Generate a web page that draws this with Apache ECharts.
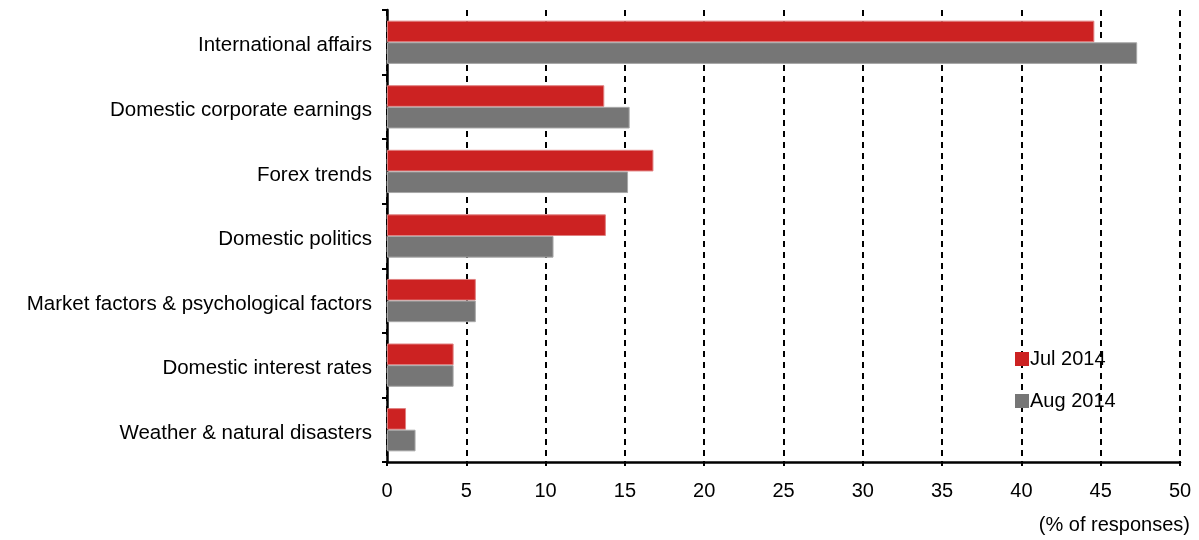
<!DOCTYPE html>
<html>
<head>
<meta charset="utf-8">
<script src="https://cdn.jsdelivr.net/npm/echarts@6/dist/echarts.min.js"></script>
<style>
  html, body { margin: 0; padding: 0; background: #fff; }
  #chart { width: 1199px; height: 540px; }
</style>
</head>
<body>
<div id="chart"></div>
<script>
const categories = [
  'International affairs',
  'Domestic corporate earnings',
  'Forex trends',
  'Domestic politics',
  'Market factors & psychological factors',
  'Domestic interest rates',
  'Weather & natural disasters'
];
const jul2014 = [44.6, 13.7, 16.8, 13.8, 5.6, 4.2, 1.2];
const aug2014 = [47.3, 15.3, 15.2, 10.5, 5.6, 4.2, 1.8];
const xTicks = { min: 0, max: 50, interval: 5 };

const chart = echarts.init(document.getElementById('chart'));
const font = 'Liberation Sans, Arial, sans-serif';

chart.setOption({
  animation: false,
  textStyle: { fontFamily: font },
  grid: { left: 387, right: 19, top: 10, bottom: 78 },
  legend: {
    orient: 'vertical',
    left: 1010,
    top: 344,
    itemWidth: 14,
    itemHeight: 14,
    itemGap: 22,
    icon: 'rect',
    itemStyle: { borderWidth: 0 },
    textStyle: { fontFamily: font, fontSize: 20, color: '#000', padding: [0, 0, 0, -4] },
    data: ['Jul 2014', 'Aug 2014']
  },
  title: {
    text: '(% of responses)',
    right: 4,
    bottom: 0,
    textStyle: { fontFamily: font, fontSize: 20, fontWeight: 'normal', color: '#000' }
  },
  xAxis: {
    type: 'value',
    min: xTicks.min,
    max: xTicks.max,
    interval: xTicks.interval,
    axisLine: { show: true, lineStyle: { color: '#000', width: 2.5 } },
    axisTick: { show: true, length: 4, lineStyle: { color: '#000', width: 2 } },
    axisLabel: { color: '#000', fontSize: 20, margin: 19, fontFamily: font },
    splitLine: { show: true, lineStyle: { color: '#000', type: [6, 5], width: 2 } }
  },
  yAxis: {
    type: 'category',
    inverse: true,
    data: categories,
    axisLine: { show: true, lineStyle: { color: '#000', width: 2.5 } },
    axisTick: { show: true, length: 5, lineStyle: { color: '#000', width: 2 } },
    axisLabel: {
      color: '#000',
      margin: 15,
      formatter: (v) => '{a|' + v + '}',
      rich: {
        a: { fontSize: 20.5, fontFamily: font, color: '#000', padding: [7, 0, 0, 0] }
      }
    },
    splitLine: { show: false }
  },
  series: [
    {
      name: 'Jul 2014',
      type: 'bar',
      data: jul2014,
      barGap: '0%',
      barCategoryGap: '33%',
      itemStyle: { color: '#CC2222', borderColor: '#E08080', borderWidth: 1 }
    },
    {
      name: 'Aug 2014',
      type: 'bar',
      data: aug2014,
      barGap: '0%',
      barCategoryGap: '33%',
      itemStyle: { color: '#767676', borderColor: '#A8A8A8', borderWidth: 1 }
    }
  ]
});

window.addEventListener('resize', chart.resize);
</script>
</body>
</html>
